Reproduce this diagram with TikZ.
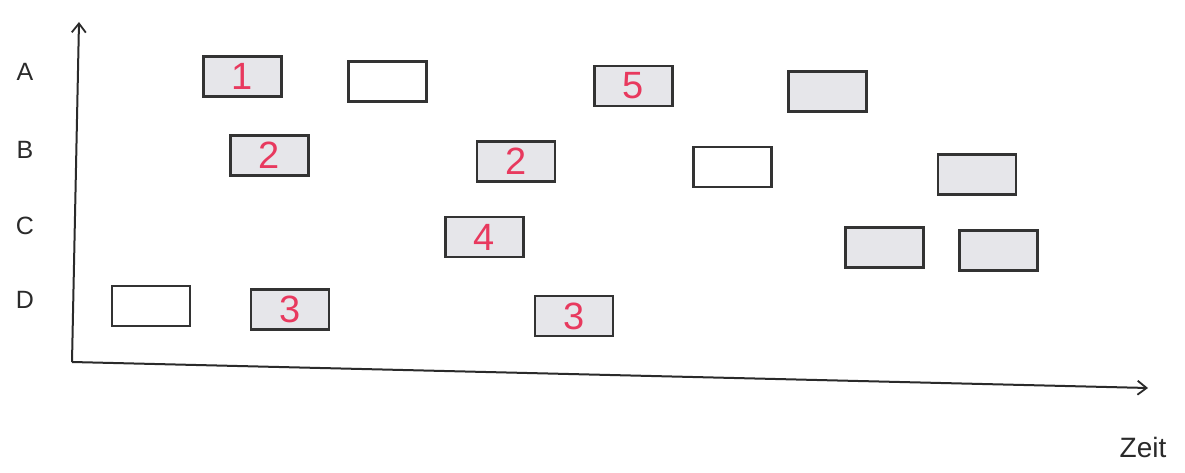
\documentclass[tikz,border=0pt]{standalone}
\usepackage{fontspec}
\setmainfont{Liberation Sans}
\usetikzlibrary{arrows.meta}
\definecolor{boxgray}{HTML}{E6E6EA}
\definecolor{boxline}{HTML}{333333}
\definecolor{pen}{HTML}{E8395E}
\definecolor{ink}{HTML}{2A2A2A}
\tikzset{
  slot/.style={draw=boxline, line width=2.2pt, minimum width=78pt, minimum height=40pt, inner sep=0pt, fill=boxgray, text=pen, font=\fontsize{38}{40}\selectfont},
  freeslot/.style={slot, fill=white},
  rowlabel/.style={text=ink, font=\fontsize{25}{28}\selectfont, inner sep=0pt},
  axis/.style={draw=ink, line width=2pt, -{Straight Barb[length=9pt,width=14pt,line width=1.8pt]}}
}
\begin{document}
\begin{tikzpicture}[x=1pt,y=-1pt]
\useasboundingbox (0,0) rectangle (1185,473);
% axes
\coordinate (o) at (72,362);
\coordinate (ytop) at (79,22);
\coordinate (xend) at (1148,388);
\draw[axis] (o) -- (ytop);
\draw[axis] (o) -- (xend);
% row labels
\node[rowlabel] (la) at (25,72) {A};
\node[rowlabel] (lb) at (25,150) {B};
\node[rowlabel] (lc) at (25,226) {C};
\node[rowlabel] (ld) at (25,300) {D};
\node[rowlabel, font=\fontsize{28}{30}\selectfont] (zeit) at (1143,447) {Zeit};
% row A
\node[slot] (a1) at (242.5,76.5) {1};
\node[freeslot] (a2) at (387.5,81.5) {};
\node[slot] (a3) at (633.5,86) {5};
\node[slot] (a4) at (827.5,91.5) {};
% row B
\node[slot] (b1) at (269.5,155.5) {2};
\node[slot] (b2) at (516,161.5) {2};
\node[freeslot] (b3) at (732.5,167) {};
\node[slot] (b4) at (977,174.5) {};
% row C
\node[slot] (c1) at (484.5,237) {4};
\node[slot] (c2) at (884.5,247.5) {};
\node[slot] (c3) at (998.5,250.5) {};
% row D
\node[freeslot] (d1) at (151,306) {};
\node[slot] (d2) at (290,309.5) {3};
\node[slot] (d3) at (574,316) {3};
\end{tikzpicture}
\end{document}
